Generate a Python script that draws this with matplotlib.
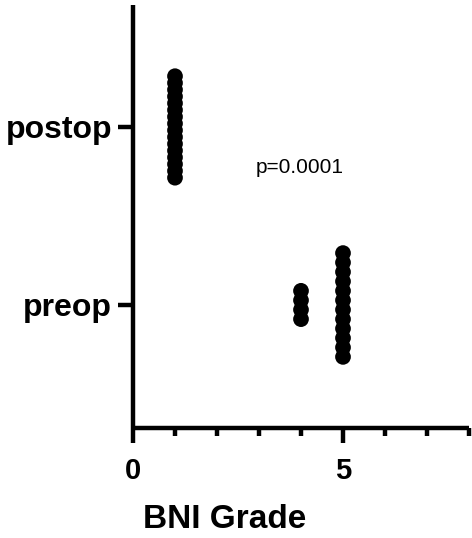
import matplotlib
matplotlib.use("Agg")
import matplotlib.pyplot as plt
from matplotlib.ticker import FixedLocator
import numpy as np

# Data
categories = ["preop", "postop"]
preop_grades = [4, 4, 4, 4, 5, 5, 5, 5, 5, 5, 5, 5, 5, 5, 5, 5]
postop_grades = [1] * 16
x_major = [0, 5]
x_minor = [1, 2, 3, 4, 6, 7, 8]
x_labels = ["0", "5"]
p_text = "p=0.0001"

plt.rcParams['font.family'] = ['Liberation Sans', 'DejaVu Sans']

fig = plt.figure(figsize=(4.72, 5.38), dpi=100)
ax = fig.add_axes([133/472, 1 - 428/538, 336/472, 423/538])

def stack(values, center, step):
    vals = np.array(values)
    xs, ys = [], []
    for v in np.unique(vals):
        n = int((vals == v).sum())
        offs = (np.arange(n) - (n - 1) / 2) * step
        xs += [v] * n
        ys += list(center + offs)
    return xs, ys

steps = {"preop": 0.053, "postop": 0.038}
for i, (name, vals) in enumerate(zip(categories, [preop_grades, postop_grades])):
    xs, ys = stack(vals, i, steps[name])
    ax.scatter(xs, ys, s=128, color='black', edgecolors='none', zorder=3, clip_on=False)

ax.set_xlim(0, 8)
ax.set_ylim(-0.691, 1.685)
ax.set_yticks(range(len(categories)))
ax.set_yticklabels(categories, fontsize=23, fontweight='bold')
ax.xaxis.set_major_locator(FixedLocator(x_major))
ax.xaxis.set_minor_locator(FixedLocator(x_minor))
ax.set_xticklabels(x_labels, fontsize=21, fontweight='bold')

for s in ['top', 'right']:
    ax.spines[s].set_visible(False)
for s in ['left', 'bottom']:
    ax.spines[s].set_linewidth(3.2)
    ax.spines[s].set_capstyle('butt')

ax.tick_params(axis='x', which='major', length=11, width=3.2, pad=10, direction='out')
ax.tick_params(axis='x', which='minor', length=6, width=3.2, direction='out')
ax.tick_params(axis='y', which='major', length=11, width=3.2, pad=4, direction='out')

ax.set_xlabel("BNI Grade", fontsize=24, fontweight='bold')
ax.xaxis.set_label_coords(0.274, -0.217)
ax.xaxis.label.set_va('center')

ax.text(3.96, 0.77, p_text, fontsize=15, ha='center', va='center')

fig.savefig("out.png", dpi=100)
